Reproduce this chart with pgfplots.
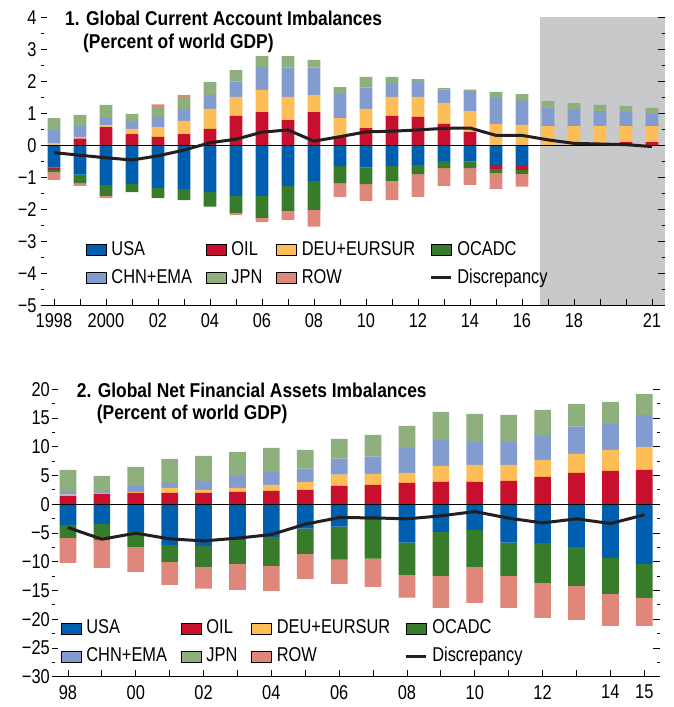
\documentclass[border=0pt]{standalone}
\usepackage{fontspec}
\usepackage{pgfplots}
\usepackage{pgfplotstable}
\pgfplotsset{compat=1.18}
\newfontfamily\lblfont{Liberation Sans}[FakeStretch=0.82]
\newfontfamily\ttlfont{Liberation Sans}[FakeStretch=0.87]
\newcommand\lbl{\lblfont\fontsize{20}{24}\selectfont}
\newcommand\ttl{\ttlfont\bfseries\fontsize{20}{24}\selectfont}

\definecolor{cUSA}{RGB}{0,94,175}
\definecolor{cOIL}{RGB}{200,16,46}
\definecolor{cDEU}{RGB}{253,190,87}
\definecolor{cOCA}{RGB}{54,124,43}
\definecolor{cCHN}{RGB}{130,156,208}
\definecolor{cJPN}{RGB}{143,176,125}
\definecolor{cROW}{RGB}{224,135,123}
\definecolor{cShade}{RGB}{200,201,203}
\definecolor{cLine}{RGB}{35,31,32}

\pgfplotstableread{
year USA OIL DEU OCA CHN JPN ROW DISC
1998 -0.70 -0.07 0.07 -0.08 0.41 0.37 -0.23 -0.23
1999 -0.92 0.21 0.05 -0.26 0.34 0.35 -0.09 -0.31
2000 -1.24 0.57 0.05 -0.34 0.24 0.40 -0.07 -0.39
2001 -1.21 0.35 0.16 -0.25 0.22 0.25 0.00 -0.46
2002 -1.33 0.26 0.31 -0.32 0.32 0.31 0.08 -0.33
2003 -1.36 0.35 0.41 -0.35 0.38 0.37 0.06 -0.15
2004 -1.46 0.51 0.63 -0.46 0.43 0.41 0.00 0.08
2005 -1.58 0.92 0.59 -0.53 0.48 0.36 -0.07 0.19
2006 -1.58 1.04 0.69 -0.69 0.72 0.34 -0.13 0.41
2007 -1.27 0.79 0.72 -0.78 0.92 0.36 -0.28 0.48
2008 -1.11 1.04 0.53 -0.91 0.86 0.24 -0.52 0.13
2009 -0.65 0.29 0.56 -0.53 0.75 0.22 -0.43 0.27
2010 -0.70 0.54 0.60 -0.51 0.66 0.34 -0.53 0.42
2011 -0.64 0.92 0.59 -0.47 0.44 0.19 -0.60 0.44
2012 -0.61 0.89 0.62 -0.29 0.50 0.06 -0.71 0.48
2013 -0.49 0.67 0.65 -0.22 0.42 0.05 -0.56 0.53
2014 -0.51 0.42 0.65 -0.20 0.63 0.04 -0.53 0.54
2015 -0.64 -0.10 0.67 -0.12 0.81 0.19 -0.50 0.31
2016 -0.64 -0.13 0.64 -0.12 0.75 0.21 -0.40 0.31
2017 -0.68 0.00 0.60 -0.09 0.58 0.21 -0.47 0.17
2018 -0.71 0.00 0.60 -0.09 0.51 0.21 -0.47 0.06
2019 -0.68 0.00 0.60 -0.09 0.47 0.19 -0.50 0.04
2020 -0.65 0.10 0.50 -0.09 0.44 0.19 -0.50 0.02
2021 -0.65 0.10 0.50 -0.12 0.38 0.19 -0.44 -0.04
}\tabCA

\pgfplotstableread{
year USA OIL DEU OCA CHN JPN ROW DISC
1998 -3.60 1.45 0.23 -2.26 0.64 3.65 -4.35 -4.06
1999 -3.42 1.80 0.17 -2.78 0.35 2.61 -4.87 -6.09
2000 -4.81 1.97 0.17 -2.61 1.05 3.30 -4.35 -5.04
2001 -7.07 1.97 0.87 -2.96 0.87 4.17 -4.00 -6.03
2002 -7.25 1.97 0.52 -3.65 1.57 4.35 -3.77 -6.38
2003 -6.20 2.14 0.70 -4.18 2.09 4.17 -4.52 -5.91
2004 -5.68 2.32 1.04 -5.04 2.26 4.18 -4.35 -5.28
2005 -4.23 2.49 1.39 -4.41 2.32 3.25 -4.35 -3.48
2006 -3.88 3.19 1.97 -5.74 2.78 3.42 -4.24 -2.32
2007 -2.72 3.36 1.92 -6.73 3.01 3.77 -4.93 -2.38
2008 -6.67 3.71 1.74 -5.62 4.35 3.82 -3.94 -2.55
2009 -4.81 3.88 2.79 -7.65 4.52 4.87 -5.57 -2.03
2010 -4.46 3.88 2.96 -6.44 4.00 4.87 -6.26 -1.28
2011 -6.67 4.06 2.78 -5.79 4.00 4.70 -5.57 -2.43
2012 -6.72 4.75 2.96 -6.96 4.17 4.53 -6.09 -3.25
2013 -7.42 5.45 3.30 -6.78 4.76 3.94 -5.92 -2.55
2014 -9.33 5.80 3.65 -6.26 4.52 3.83 -5.57 -3.36
2015 -10.38 5.97 4.00 -5.91 5.57 3.65 -4.87 -1.86
}\tabNFA

\pgfplotsset{
  barleg/.style={legend image code/.code={\fill[##1] (0pt,-5.5pt) rectangle (20pt,5.5pt);}},
  lineleg/.style={legend image code/.code={\draw[##1] (0pt,0pt) -- (20pt,0pt);}},
  topgeom/.style={at={(40.7pt,401.7pt)}, anchor=south west, scale only axis,
    width=624.3pt, height=288pt, xmin=1997.49, xmax=2021.5, ymin=-5, ymax=4, clip=false},
  botgeom/.style={at={(51.7pt,30.3pt)}, anchor=south west, scale only axis,
    width=608.2pt, height=287.5pt, xmin=1997.52, xmax=2015.46, ymin=-30, ymax=20, clip=false},
  frame/.style={axis on top, axis line style={draw=none},
    tick align=inside, xtick pos=left, ytick pos=both,
    major tick length=6.6pt, minor tick length=3.3pt,
    tick style={black, line width=0.8pt},
    minor y tick num=1,
    tick label style={font=\lbl},
    xticklabel style={yshift=-5pt}},
  leg/.style={legend columns=4, legend cell align=left,
    legend style={draw=none, fill=none, anchor=west, inner sep=0pt, outer sep=0pt,
      font=\lbl, row sep=11pt,
      nodes={inner sep=0pt, text height=14pt, text depth=3pt},
      /tikz/every odd column/.append style={column sep=5pt},
      /tikz/every even column/.append style={column sep=14pt}}},
}

\newcommand\negstack[1]{%
  \addplot[fill=cUSA, draw=none] table[x=year, y expr={min(\thisrow{USA},0)}]{#1};
  \addplot[fill=cOIL, draw=none] table[x=year, y expr={min(\thisrow{OIL},0)}]{#1};
  \addplot[fill=cDEU, draw=none] table[x=year, y expr={min(\thisrow{DEU},0)}]{#1};
  \addplot[fill=cOCA, draw=none] table[x=year, y expr={min(\thisrow{OCA},0)}]{#1};
  \addplot[fill=cCHN, draw=none] table[x=year, y expr={min(\thisrow{CHN},0)}]{#1};
  \addplot[fill=cJPN, draw=none] table[x=year, y expr={min(\thisrow{JPN},0)}]{#1};
  \addplot[fill=cROW, draw=none] table[x=year, y expr={min(\thisrow{ROW},0)}]{#1};
}
\newcommand\posstack[1]{%
  \addplot[fill=cUSA, draw=none] table[x=year, y expr={max(\thisrow{USA},0)}]{#1};
  \addplot[fill=cOIL, draw=none] table[x=year, y expr={max(\thisrow{OIL},0)}]{#1};
  \addplot[fill=cDEU, draw=none] table[x=year, y expr={max(\thisrow{DEU},0)}]{#1};
  \addplot[fill=cOCA, draw=none] table[x=year, y expr={max(\thisrow{OCA},0)}]{#1};
  \addplot[fill=cCHN, draw=none] table[x=year, y expr={max(\thisrow{CHN},0)}]{#1};
  \addplot[fill=cJPN, draw=none] table[x=year, y expr={max(\thisrow{JPN},0)}]{#1};
  \addplot[fill=cROW, draw=none] table[x=year, y expr={max(\thisrow{ROW},0)}]{#1};
}
\newcommand\legimages{%
  \addlegendimage{barleg, fill=cUSA}\addlegendentry{USA}
  \addlegendimage{barleg, fill=cOIL}\addlegendentry{OIL}
  \addlegendimage{barleg, fill=cDEU}\addlegendentry{DEU+EURSUR}
  \addlegendimage{barleg, fill=cOCA}\addlegendentry{OCADC}
  \addlegendimage{barleg, fill=cCHN}\addlegendentry{CHN+EMA}
  \addlegendimage{barleg, fill=cJPN}\addlegendentry{JPN}
  \addlegendimage{barleg, fill=cROW}\addlegendentry{ROW}
}

\begin{document}
\begin{tikzpicture}
\path[use as bounding box] (0pt,0pt) rectangle (673pt,707pt);

% ---------------- Panel 1 ----------------
\begin{axis}[topgeom, frame, ybar stacked, bar width=12.7pt,
  xtick={1998,...,2021},
  xticklabels={1998,,2000,,02,,04,,06,,08,,10,,12,,14,,16,,18,,,21},
  ytick={-5,...,4},
  yticklabels={−5,−4,−3,−2,−1,0,1,2,3,4},
  yticklabel style={inner sep=0pt, xshift=-4pt}]
  \fill[cShade] (axis cs:2016.69,-5) rectangle (axis cs:2021.5,4);
  \draw[black, line width=1pt] (axis cs:1997.49,-5) -- (axis cs:2021.5,-5);
  \negstack{\tabCA}
\end{axis}
\begin{axis}[topgeom, hide axis, ybar stacked, bar width=12.7pt]
  \posstack{\tabCA}
\end{axis}
\begin{axis}[topgeom, hide axis, leg, legend style={at={(0.0726,0.145)}}]
  \draw[black, line width=0.9pt] (axis cs:1997.49,0) -- (axis cs:2021.5,0);
  \legimages
  \addplot[cLine, line width=3pt, line join=round, lineleg] table[x=year, y=DISC]{\tabCA};
  \addlegendentry{Discrepancy}
\end{axis}
\node[anchor=base west, inner sep=0pt] at (65pt,681.3pt) {\ttl 1. Global Current Account Imbalances};
\node[anchor=base west, inner sep=0pt] at (83pt,658.7pt) {\ttl (Percent of world GDP)};

% ---------------- Panel 2 ----------------
\begin{axis}[botgeom, frame, ybar stacked, bar width=16.7pt,
  xtick={1998,...,2015},
  xticklabels={98,,00,,02,,04,,06,,08,,10,,12,,14,15},
  ytick={-30,-25,...,20},
  yticklabels={−30,−25,−20,−15,−10,−5,0,5,10,15,20},
  yticklabel style={inner sep=0pt, xshift=-1.7pt}]
  \draw[black, line width=1pt] (axis cs:1997.52,-30) -- (axis cs:2015.46,-30);
  \negstack{\tabNFA}
\end{axis}
\begin{axis}[botgeom, hide axis, ybar stacked, bar width=16.7pt]
  \posstack{\tabNFA}
\end{axis}
\begin{axis}[botgeom, hide axis, leg, legend style={at={(0.0153,0.120)}}]
  \draw[black, line width=0.9pt] (axis cs:1997.52,0) -- (axis cs:2015.46,0);
  \legimages
  \addplot[cLine, line width=3pt, line join=round, lineleg] table[x=year, y=DISC]{\tabNFA};
  \addlegendentry{Discrepancy}
\end{axis}
\node[anchor=base west, inner sep=0pt] at (76.7pt,309.3pt) {\ttl 2. Global Net Financial Assets Imbalances};
\node[anchor=base west, inner sep=0pt] at (96.7pt,287pt) {\ttl (Percent of world GDP)};
\end{tikzpicture}
\end{document}
